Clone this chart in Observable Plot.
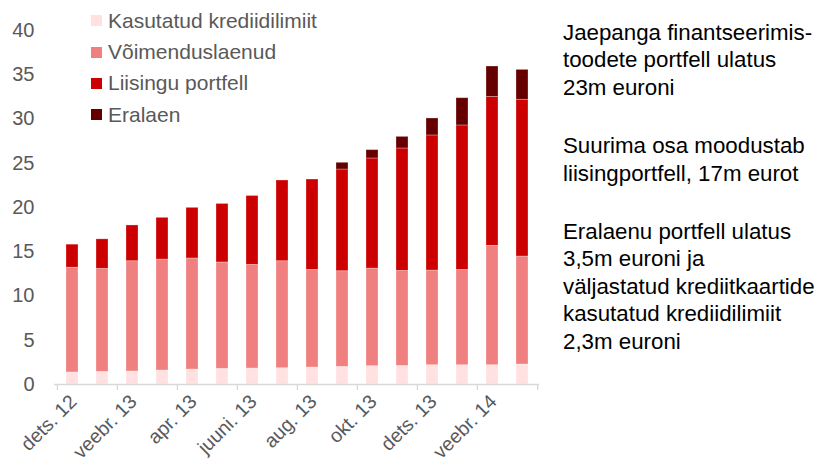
<!DOCTYPE html>
<html>
<head>
<meta charset="utf-8">
<script src="https://cdn.jsdelivr.net/npm/d3@7"></script>
<script src="https://cdn.jsdelivr.net/npm/@observablehq/plot@0.6"></script>
<style>
  html, body { margin: 0; padding: 0; background: #fff; }
  #wrap { position: relative; width: 837px; height: 472px; font-family: "Liberation Sans", Arial, sans-serif; }
  #legend { position: absolute; left: 91px; top: 5px; color: #595959; font-size: 21px; }
  #legend .row { display: flex; align-items: center; height: 31.4px; }
  #legend .sw { width: 11px; height: 11px; margin-right: 6px; }
  #note { position: absolute; left: 563px; top: 19px; color: #000; font-size: 22.3px; line-height: 27.4px; white-space: pre; }
  #note p { margin: 0 0 31px 0; }
</style>
</head>
<body>
<div id="wrap">
  <div id="chart"></div>
  <div id="legend"></div>
  <div id="note"></div>
</div>
<script>
const months = ["dets. 12","jaan. 13","veebr. 13","märts. 13","apr. 13","mai. 13","juuni. 13","juuli. 13","aug. 13","sept. 13","okt. 13","nov. 13","dets. 13","jaan. 14","veebr. 14","märts. 14"];
const seriesNames = ["Kasutatud krediidilimiit","Võimenduslaenud","Liisingu portfell","Eralaen"];
const seriesColors = ["#FFE1E1","#F08080","#CC0000","#660000"];
const kasutatud = [1.36,1.43,1.47,1.58,1.69,1.77,1.81,1.84,1.92,1.99,2.07,2.10,2.18,2.18,2.18,2.26];
const voimendus = [11.84,11.64,12.46,12.54,12.55,12.02,11.71,12.09,11.03,10.81,11.03,10.74,10.70,10.77,13.49,12.20];
const liising   = [2.60,3.33,4.04,4.71,5.72,6.61,7.78,9.12,10.21,11.49,12.44,13.83,15.26,16.32,16.83,17.71];
const eralaen   = [0,0,0,0,0,0,0,0,0,0.76,0.94,1.31,1.92,3.08,3.43,3.38];
const yTicks = [0,5,10,15,20,25,30,35,40];
const noteParagraphs = [
  "Jaepanga finantseerimis-\ntoodete portfell ulatus\n23m euroni",
  "Suurima osa moodustab\nliisingportfell, 17m eurot",
  "Eralaenu portfell ulatus\n3,5m euroni ja\nväljastatud krediitkaartide\nkasutatud krediidilimiit\n2,3m euroni"
];

const seriesValues = [kasutatud, voimendus, liising, eralaen];
const data = [];
seriesNames.forEach((s, si) => months.forEach((m, mi) => data.push({month: m, series: s, value: seriesValues[si][mi]})));

const W = 837, H = 472, mL = 54, mR = 298, mT = 30, mB = 88;
const step = (W - mL - mR) / months.length;
const tickCats = months.filter((d, i) => i % 2 === 0);
const labelCats = months.filter((d, i) => i % 2 === 0);

const chart = Plot.plot({
  width: W, height: H,
  marginLeft: mL, marginRight: mR, marginTop: mT, marginBottom: mB,
  style: {fontFamily: "'Liberation Sans', Arial, sans-serif", color: "#595959", background: "#fff"},
  x: {type: "band", domain: months, paddingInner: 0.6, paddingOuter: 0.3, axis: null, label: null},
  y: {domain: [0, 40], axis: null, label: null},
  color: {domain: seriesNames, range: seriesColors},
  marks: [
    Plot.barY(data, {x: "month", y: "value", fill: "series", order: seriesNames, stroke: "#fff", strokeOpacity: 0.35, strokeWidth: 0.8}),
    Plot.ruleY([0], {stroke: "#d9d9d9", strokeWidth: 1.3}),
    Plot.axisY(yTicks, {anchor: "left", tickSize: 0, tickPadding: 20, fontSize: 20, fill: "#595959", label: null}),
    Plot.axisX(tickCats, {anchor: "bottom", tickSize: 6, stroke: "#d9d9d9", strokeWidth: 1.3, tickFormat: () => "", dx: -step / 2, label: null}),
    Plot.axisX([months[months.length - 1]], {anchor: "bottom", tickSize: 6, stroke: "#d9d9d9", strokeWidth: 1.3, tickFormat: () => "", dx: step / 2, label: null}),
    Plot.axisX(labelCats, {anchor: "bottom", tickSize: 0, tickPadding: 14, tickRotate: -45, fontSize: 19.5, fill: "#595959", label: null, dx: 1})
  ]
});
document.getElementById("chart").appendChild(chart);

const legend = document.getElementById("legend");
seriesNames.forEach((s, i) => {
  const row = document.createElement("div");
  row.className = "row";
  const sw = document.createElement("span");
  sw.className = "sw";
  sw.style.background = seriesColors[i];
  const t = document.createElement("span");
  t.textContent = s;
  row.appendChild(sw); row.appendChild(t);
  legend.appendChild(row);
});
const note = document.getElementById("note");
noteParagraphs.forEach(p => {
  const el = document.createElement("p");
  el.textContent = p;
  note.appendChild(el);
});
</script>
</body>
</html>
